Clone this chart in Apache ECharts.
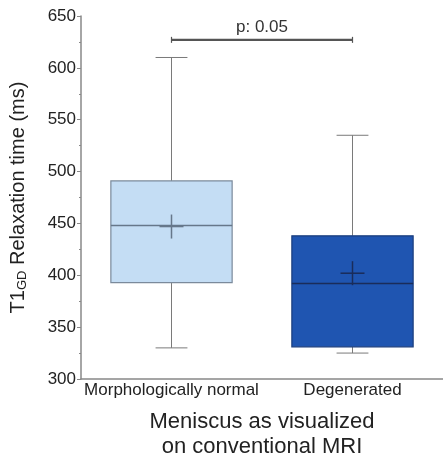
<!DOCTYPE html>
<html>
<head>
<meta charset="utf-8">
<script src="https://cdn.jsdelivr.net/npm/echarts@6/dist/echarts.min.js"></script>
<style>
  html, body { margin: 0; padding: 0; background: #fff; }
  #chart { width: 443px; height: 461px; }
</style>
</head>
<body>
<div id="chart"></div>
<script>
// Groups on the x axis
const categories = ['Morphologically normal', 'Degenerated'];
// Five-number summaries per group (ms)
const whiskerLow = [330, 325];
const q1 = [393, 331];
const median = [448, 392];
const q3 = [491, 438];
const whiskerHigh = [610, 535];
const mean = [447, 402];
// Significance bracket
const pLabel = 'p: 0.05';
const bracketLevel = 627;
// Axis ticks
const yMin = 300, yMax = 650, yStep = 50;

const FONT = '"Liberation Sans", Arial, sans-serif';
const fills = ['#c4ddf4', '#1f55b1'];
const edges = ['#7b8a9b', '#1a3d7c'];
const centerLines = ['#66778a', '#1a2c5a'];

const boxData = categories.map((c, i) =>
  [i, whiskerLow[i], q1[i], median[i], q3[i], whiskerHigh[i], mean[i]]);

function renderBox(params, api) {
  const i = api.value(0);
  const band = api.size([1, 0])[0];
  const cx = api.coord([i, api.value(3)])[0];
  const y = (v) => api.coord([i, v])[1];
  const half = band * 0.335;
  const cap = band * 0.088;
  const yLo = y(api.value(1)), yQ1 = y(api.value(2)), yMed = y(api.value(3));
  const yQ3 = y(api.value(4)), yHi = y(api.value(5)), yMean = y(api.value(6));
  const whisker = { stroke: '#7a7a7a', lineWidth: 1 };
  const cs = 12;
  return {
    type: 'group',
    children: [
      { type: 'line', shape: { x1: cx, y1: yQ3, x2: cx, y2: yHi }, style: whisker },
      { type: 'line', shape: { x1: cx, y1: yLo, x2: cx, y2: yQ1 }, style: whisker },
      { type: 'line', shape: { x1: cx - cap, y1: yHi, x2: cx + cap, y2: yHi }, style: whisker },
      { type: 'line', shape: { x1: cx - cap, y1: yLo, x2: cx + cap, y2: yLo }, style: whisker },
      { type: 'rect', shape: { x: cx - half, y: yQ3, width: half * 2, height: yQ1 - yQ3 },
        style: { fill: fills[i], stroke: edges[i], lineWidth: 1.2 } },
      { type: 'line', shape: { x1: cx - half, y1: yMed, x2: cx + half, y2: yMed },
        style: { stroke: centerLines[i], lineWidth: 1.5 } },
      { type: 'line', shape: { x1: cx - cs, y1: yMean, x2: cx + cs, y2: yMean },
        style: { stroke: centerLines[i], lineWidth: 1.5 } },
      { type: 'line', shape: { x1: cx, y1: yMean - cs, x2: cx, y2: yMean + cs },
        style: { stroke: centerLines[i], lineWidth: 1.5 } }
    ]
  };
}

function renderBracket(params, api) {
  const a = api.coord([0, api.value(0)]);
  const b = api.coord([1, api.value(0)]);
  const st = { stroke: '#555', lineWidth: 2.2 };
  return {
    type: 'group',
    children: [
      { type: 'line', shape: { x1: a[0], y1: a[1], x2: b[0], y2: b[1] }, style: st },
      { type: 'line', shape: { x1: a[0], y1: a[1] - 3, x2: a[0], y2: a[1] + 3 }, style: { stroke: '#555', lineWidth: 1.2 } },
      { type: 'line', shape: { x1: b[0], y1: b[1] - 3, x2: b[0], y2: b[1] + 3 }, style: { stroke: '#555', lineWidth: 1.2 } },
      { type: 'text', x: (a[0] + b[0]) / 2, y: a[1] - 4,
        style: { text: pLabel, fill: '#333', font: '17px ' + FONT,
                 align: 'center', verticalAlign: 'bottom' } }
    ]
  };
}

const chart = echarts.init(document.getElementById('chart'), null, { renderer: 'canvas' });
chart.setOption({
  animation: false,
  backgroundColor: '#fff',
  textStyle: { fontFamily: FONT },
  grid: { left: 81, right: 0, top: 16, bottom: 82, containLabel: false, outerBoundsMode: 'none' },
  xAxis: {
    type: 'category',
    data: categories,
    axisLine: { lineStyle: { color: '#888', width: 1.5 } },
    axisTick: { alignWithLabel: true, length: 3, lineStyle: { color: '#888' } },
    axisLabel: { color: '#222', fontSize: 17, margin: 3, interval: 0, hideOverlap: false },
    name: 'Meniscus as visualized\non conventional MRI',
    nameLocation: 'middle',
    nameGap: 30,
    nameTextStyle: { color: '#222', fontSize: 22, lineHeight: 25 }
  },
  yAxis: {
    type: 'value',
    min: yMin, max: yMax, interval: yStep,
    axisLine: { show: true, lineStyle: { color: '#888', width: 1.5 } },
    axisTick: { show: true, length: 4, lineStyle: { color: '#888' } },
    minorTick: { show: true, splitNumber: 2, length: 2, lineStyle: { color: '#888' } },
    splitLine: { show: false },
    axisLabel: { color: '#222', fontSize: 17, margin: 5 },
    name: 'T1{sub|GD} Relaxation time (ms)',
    nameLocation: 'middle',
    nameGap: 52,
    nameTextStyle: {
      color: '#222', fontSize: 20,
      rich: { sub: { fontSize: 13, color: '#222', verticalAlign: 'bottom', padding: [9, 0, 0, 0] } }
    }
  },
  series: [
    { type: 'custom', renderItem: renderBox, data: boxData, encode: { x: 0, y: [1, 5] }, z: 2 },
    { type: 'custom', renderItem: renderBracket, data: [[bracketLevel]], encode: { y: 0 }, z: 3 }
  ]
});
</script>
</body>
</html>
